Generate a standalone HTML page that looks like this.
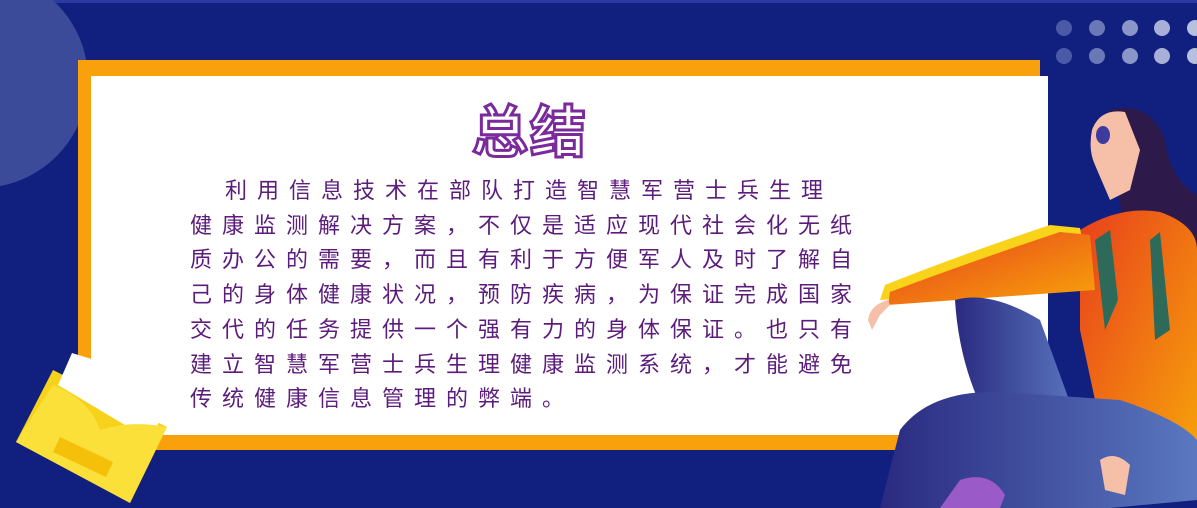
<!DOCTYPE html>
<html><head><meta charset="utf-8"><style>
html,body{margin:0;padding:0}
body{width:1197px;height:508px;overflow:hidden;background:#111f7f;position:relative;font-family:"Liberation Sans","Noto Sans CJK SC",sans-serif}
.abs{position:absolute}
#txt{left:190px;top:174px;width:700px;color:#5c1c7c;font-size:22px;line-height:34.7px;letter-spacing:10px;white-space:nowrap}
#title{left:460px;top:88px;width:140px;text-align:center;font-size:56px;font-weight:bold;color:#fff;-webkit-text-stroke:3px #7a2a9a;letter-spacing:2px;font-family:"Noto Sans CJK SC","WenQuanYi Zen Hei",sans-serif}
</style></head><body>
<svg class="abs" style="left:0;top:0" width="1197" height="508">
<defs>
<linearGradient id="sh" x1="0" y1="0" x2="1" y2="1"><stop offset="0" stop-color="#e8401c"/><stop offset="1" stop-color="#f7a40a"/></linearGradient>
<linearGradient id="jn" x1="0" y1="0" x2="1" y2="0"><stop offset="0" stop-color="#2a2a80"/><stop offset="1" stop-color="#5a78c0"/></linearGradient>
</defs>
<rect x="0" y="0" width="1197" height="3" fill="#2a3aa0"/>
<circle cx="-20" cy="80" r="108" fill="#3b4b9a"/>
<g>
<circle cx="1064" cy="28" r="8" fill="#4a5aa6"/><circle cx="1097" cy="28" r="8" fill="#6a78b8"/><circle cx="1130" cy="28" r="8" fill="#8a96c8"/><circle cx="1162" cy="28" r="8" fill="#a8b0d8"/><circle cx="1195" cy="28" r="8" fill="#b8c0e0"/>
<circle cx="1064" cy="56" r="8" fill="#4a5aa6"/><circle cx="1097" cy="56" r="8" fill="#6a78b8"/><circle cx="1130" cy="56" r="8" fill="#8a96c8"/><circle cx="1162" cy="56" r="8" fill="#a8b0d8"/><circle cx="1195" cy="56" r="8" fill="#b8c0e0"/>
</g>
<rect x="78" y="60" width="962" height="390" fill="#f9a10c"/>
<rect x="91" y="76" width="957" height="359" fill="#ffffff"/>
<g>
<polygon points="53,370 16,442 130,503 167,427" fill="#f7d21a"/>
<polygon points="72,353 58,385 150,440 170,400 160,380" fill="#ffffff"/>
<path d="M53,385 Q90,400 100,430 Q130,420 167,427 L130,503 L16,442 Z" fill="#fbe03a"/>
<polygon points="60,437 113,462 106,477 53,452" fill="#f5c00a"/>
</g>
<g>
<path d="M1110,110 Q1150,100 1165,140 Q1170,180 1197,195 L1197,330 L1130,330 L1120,200 Z" fill="#2e1a4a"/>
<path d="M1092,130 Q1100,108 1125,112 L1140,150 L1130,190 L1110,200 L1095,165 Q1088,150 1092,130 Z" fill="#f6c0a8"/>
<ellipse cx="1103" cy="135" rx="7" ry="9" fill="#3d3aa0"/>
<path d="M1080,230 Q1120,205 1160,212 Q1197,225 1197,250 L1197,460 L1110,470 L1080,330 Z" fill="url(#sh)"/>
<path d="M1050,225 L1080,228 L1090,285 L880,300 L885,285 Q960,255 1050,225 Z" fill="#f9d21a"/>
<path d="M1060,232 L1090,235 L1095,290 L888,305 L890,292 Q970,262 1060,232 Z" fill="url(#sh)"/>
<path d="M888,300 Q870,305 868,320 L872,330 L880,315 L890,305 Z" fill="#f6c0a8"/>
<path d="M1095,240 L1110,230 L1118,300 L1105,330 Z" fill="#2e6a5a"/>
<path d="M1150,240 L1160,232 L1170,330 L1155,340 Z" fill="#2e6a5a"/>
<path d="M955,300 Q990,290 1040,320 L1080,430 L1000,440 Q960,380 955,300 Z" fill="url(#jn)"/>
<path d="M900,430 Q930,390 1000,392 L1120,400 Q1180,420 1197,440 L1197,500 L1110,508 L880,508 Z" fill="url(#jn)"/>
<path d="M960,480 Q990,470 1005,495 L1000,508 L940,508 Z" fill="#9a5ac8"/>
<path d="M1100,460 Q1115,450 1130,465 L1125,495 L1105,490 Z" fill="#f6c0a8"/>
</g>
</svg>
<div id="title" class="abs">总结</div>
<div id="txt" class="abs"><div style="text-indent:35px">利用信息技术在部队打造智慧军营士兵生理</div><div>健康监测解决方案，不仅是适应现代社会化无纸</div><div>质办公的需要，而且有利于方便军人及时了解自</div><div>己的身体健康状况，预防疾病，为保证完成国家</div><div>交代的任务提供一个强有力的身体保证。也只有</div><div>建立智慧军营士兵生理健康监测系统，才能避免</div><div>传统健康信息管理的弊端。</div></div>
</body></html>
